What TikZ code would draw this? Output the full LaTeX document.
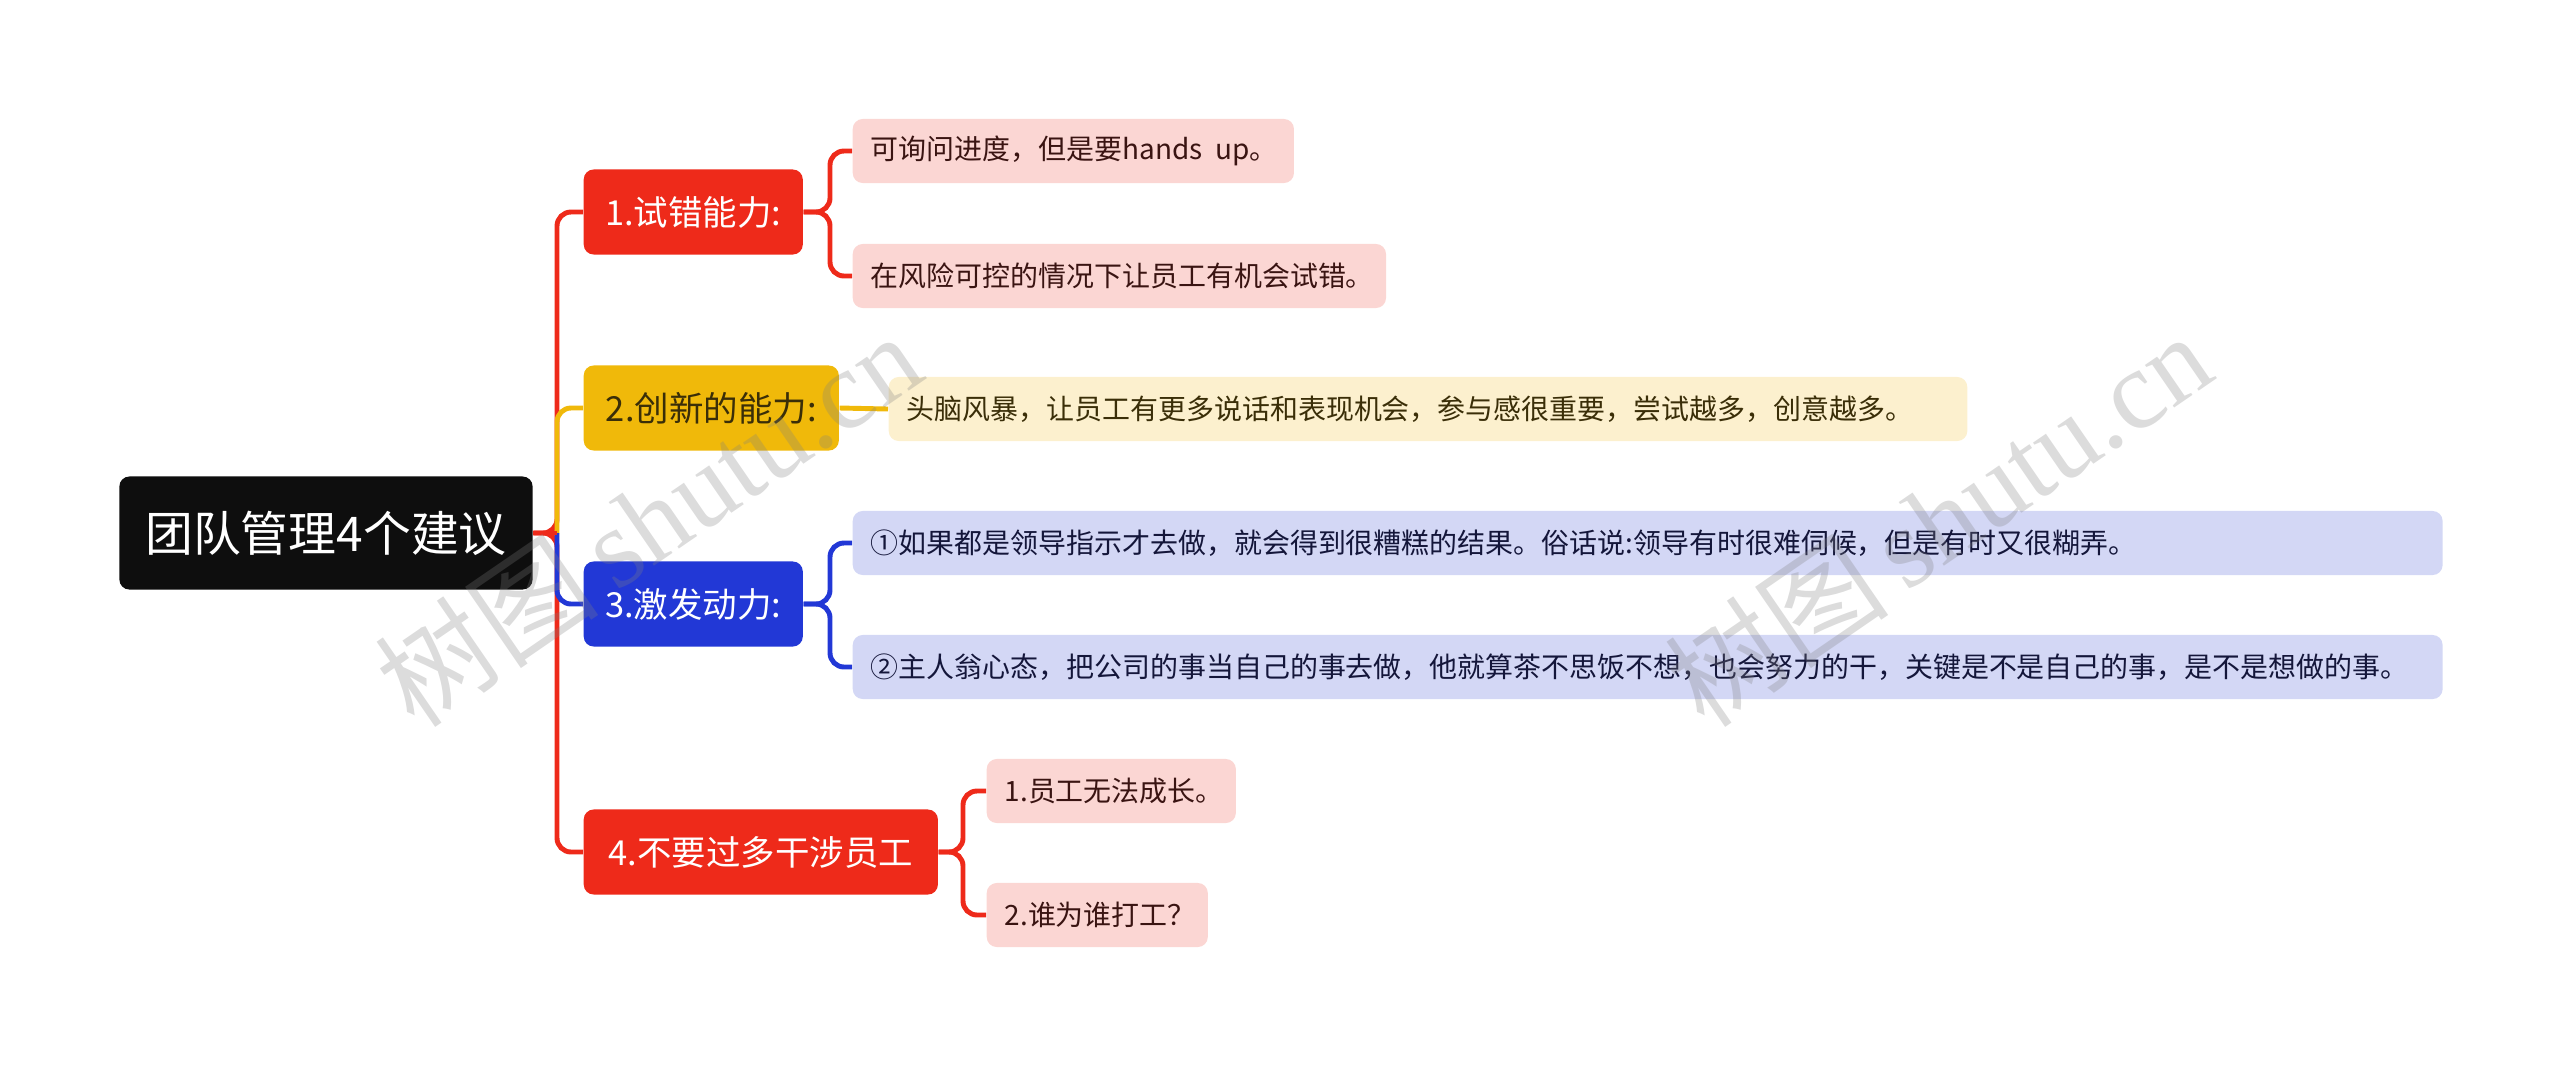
\documentclass[tikz,border=0pt]{standalone}
\usepackage{fontspec}
\setmainfont{Noto Sans CJK SC}
\newfontfamily\wmserif{Liberation Serif}
\definecolor{rootblack}{HTML}{0E0E0E}
\definecolor{topred}{HTML}{EE2A1A}
\definecolor{topyellow}{HTML}{F0B90A}
\definecolor{topblue}{HTML}{2238D6}
\definecolor{leafred}{HTML}{FBD6D3}
\definecolor{leafyellow}{HTML}{FCF0CE}
\definecolor{leafblue}{HTML}{D3D7F5}
\definecolor{inkred}{HTML}{3A1412}
\definecolor{inkyellow}{HTML}{3A2E08}
\definecolor{inkblue}{HTML}{14163A}
\newcommand{\leaftext}[2]{\makebox[#1][l]{#2}}

\begin{document}
\begin{tikzpicture}[x=0.01cm, y=-0.01cm,
    rootbox/.style={fill=rootblack, text=white, rounded corners=0.1cm,
        minimum width=4.13cm, minimum height=1.13cm, inner sep=0pt,
        font=\fontsize{13.6}{16}\selectfont},
    topicbox/.style={rounded corners=0.1cm, minimum height=0.85cm, inner sep=0pt,
        anchor=west, font=\fontsize{9.8}{12}\selectfont},
    leafbox/.style={rounded corners=0.1cm, minimum height=0.64cm, inner xsep=0.18cm,
        inner ysep=0pt, anchor=west, font=\fontsize{7.95}{9}\selectfont},
    link/.style={line width=1.4pt, rounded corners=0.14cm},
    mark text/.style={text=gray, text opacity=0.28, rotate=34.5,
        font=\fontsize{32}{36}\selectfont}]
    \useasboundingbox (0,0) rectangle (2560,1066);

    % root and main topics
    \node[rootbox] (root) at (326,533) {团队管理4个建议};
    \node[topicbox, fill=topred, text=white, minimum width=2.19cm] (t1) at (583,212) {1.试错能力:};
    \node[topicbox, fill=topyellow, text=inkyellow, minimum width=2.55cm] (t2) at (583,408) {2.创新的能力:};
    \node[topicbox, fill=topblue, text=white, minimum width=2.19cm] (t3) at (583,604) {3.激发动力:};
    \node[topicbox, fill=topred, text=white, minimum width=3.54cm] (t4) at (583,852) {4.不要过多干涉员工};

    % leaves
    \node[leafbox, fill=leafred, text=inkred] (l11) at (852,151) {\leaftext{4.05cm}{可询问进度，但是要hands\ \ up。}};
    \node[leafbox, fill=leafred, text=inkred] (l12) at (852,276) {\leaftext{4.97cm}{在风险可控的情况下让员工有机会试错。}};
    \node[leafbox, fill=leafyellow, text=inkyellow] (l21) at (888,409) {\leaftext{10.42cm}{头脑风暴，让员工有更多说话和表现机会，参与感很重要，尝试越多，创意越多。}};
    \node[leafbox, fill=leafblue, text=inkblue] (l31) at (852,543) {\leaftext{15.53cm}{①如果都是领导指示才去做，就会得到很糟糕的结果。俗话说:领导有时很难伺候，但是有时又很糊弄。}};
    \node[leafbox, fill=leafblue, text=inkblue] (l32) at (852,667) {\leaftext{15.53cm}{②主人翁心态，把公司的事当自己的事去做，他就算茶不思饭不想，也会努力的干，关键是不是自己的事，是不是想做的事。}};
    \node[leafbox, fill=leafred, text=inkred] (l41) at (986,791) {\leaftext{2.13cm}{1.员工无法成长。}};
    \node[leafbox, fill=leafred, text=inkred] (l42) at (986,915) {\leaftext{1.85cm}{2.谁为谁打工？}};

    % connectors
    \coordinate (sp) at (557,533);
    \draw[link, topred] (root.east) -- (sp) |- (t1.west);
    \draw[link, topred] (root.east) -- (sp) |- (t4.west);
    \draw[link, topyellow] (sp) |- (t2.west);
    \draw[link, topblue] (sp) |- (t3.west);
    \draw[link, topred] (root.east) -- (sp);

    \coordinate (s1) at (830,212);
    \draw[link, topred] (t1.east) -- (s1) |- (l11.west);
    \draw[link, topred] (t1.east) -- (s1) |- (l12.west);
    \draw[link, topyellow] (t2.east) -- (l21.west);
    \coordinate (s3) at (830,604);
    \draw[link, topblue] (t3.east) -- (s3) |- (l31.west);
    \draw[link, topblue] (t3.east) -- (s3) |- (l32.west);
    \coordinate (s4) at (963,852);
    \draw[link, topred] (t4.east) -- (s4) |- (l41.west);
    \draw[link, topred] (t4.east) -- (s4) |- (l42.west);

    % watermarks
    \node[mark text] (wm1) at (648,519) {树图\,{\wmserif shutu.cn}};
    \node[mark text] (wm2) at (1938,519) {树图\,{\wmserif shutu.cn}};
\end{tikzpicture}
\end{document}
